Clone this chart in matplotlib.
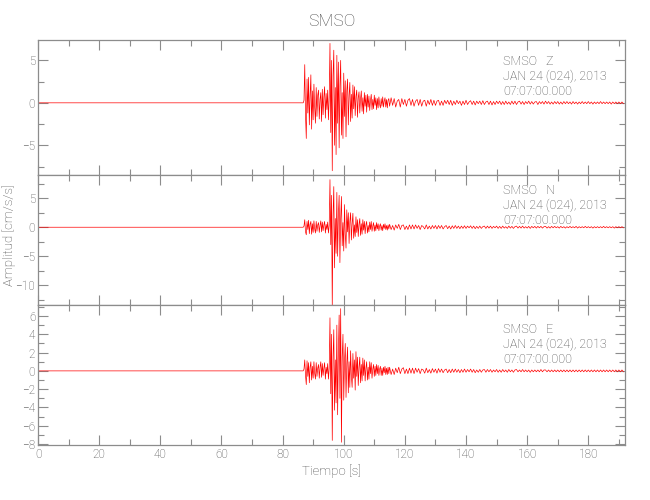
import matplotlib
matplotlib.use('Agg')
import matplotlib.pyplot as plt
import numpy as np
from matplotlib.ticker import MultipleLocator

plt.rcParams['font.family'] = ['Roboto', 'DejaVu Sans']
plt.rcParams['font.weight'] = 'light'

col_trace = '#FF0000'
col_text = '#4a4a4a'
col_axis = '#8c8c8c'

station = 'SMSO'
components = ['Z', 'N', 'E']
date_line = 'JAN 24 (024), 2013'
time_line = '07:07:00.000'

# quiet part before the first arrival
pre_times = [0.0, 86.75]
pre_values = [0.0, 0.0]

# signed peaks, every 0.25 s from 87.0 s (cm/s/s)
main_start = 87.0
main_step = 0.25
z_main = [0.3, 4.5, -1.5, -4.2, 2.8, -1.2, 3.0, -2.6, 0.8, 3.3, -3.1, 1.4,
          -2.0, 2.2, -0.6, -2.4, 1.8, -1.6, 0.9, 1.5, -1.9, 0.4, 1.2, -2.2,
          1.6, -1.4, 0.7, 1.9, -1.8, 1.1, -0.8, 1.5, -2.0, 0.6,
          7.0, -3.5, 5.0, -8.0, 3.2, 6.2, -5.0, 1.8, -6.1, 5.6,
          -2.4, 4.8, -5.3, 2.0, 5.0, -3.8, 1.2, -4.2,
          3.5, -1.6, 2.6, -4.0, 1.4, 2.8, -2.6, 0.9,
          2.4, -2.2, 1.0, -1.8, 2.1, -0.7, 1.9, -1.5,
          0.8, 1.5, -1.7, 0.6, 1.3, -1.2, 0.5, 1.4,
          -1.0, 0.6, -1.3, 1.2, -0.4, 0.9, -1.1, 1.0,
          -0.5, 0.8, -0.9, 0.3, 1.0, -0.8, 0.4, -0.7,
          0.9, -0.3, 0.6, -0.8, 0.5, -0.6, 0.7, -0.2,
          -0.6, 0.5, -0.4, 0.7, -0.5, 0.2, 0.6, -0.5, 0.4, -0.6, 0.3, 0.5]
n_main = [0.2, 1.3, -0.8, -1.3, 1.0, -0.4, 1.2, -1.1, 0.5, 1.0, -1.2, 0.6,
          -0.9, 1.1, -0.3, -1.0, 1.0, -0.7, 0.4, 0.8, -0.9, 0.3, 1.1, -0.8,
          0.9, -0.6, 0.4, 1.0, -1.0, 0.5, -0.4, 0.9, -1.0, 0.3,
          8.2, -3.0, 5.5, -13.8, 2.0, 7.0, -7.0, 1.5, -4.5, 6.0,
          -5.0, 2.2, 5.5, -6.1, 1.5, 5.3, -3.2, 0.8,
          -4.1, 3.9, -1.2, -3.6, 3.0, -0.8, 2.5, -2.8,
          1.0, 2.5, -2.2, 0.6, 2.4, -1.9, 0.4, -1.6,
          1.8, -0.9, 1.3, -1.6, 0.5, 1.5, -1.4, 0.6,
          -1.2, 1.3, -0.5, 1.0, -1.1, 0.4, 1.0, -1.0,
          0.3, -0.8, 0.9, -0.4, 1.0, -0.7, 0.2, 0.8,
          -0.7, 0.4, -0.6, 0.8, -0.3, 0.6, -0.6, 0.2,
          0.6, -0.5, 0.3, -0.6, 0.5, -0.2, 0.6, -0.4, 0.3, -0.5, 0.4, -0.3]
e_main = [0.2, 1.2, -0.5, -1.5, 1.1, -0.6, 0.9, -1.3, 0.4, 1.0, -1.0, 0.5,
          -0.8, 1.0, -0.3, -0.9, 0.9, -0.6, 0.3, 0.7, -0.8, 0.4, 1.0, -0.7,
          0.8, -0.5, 0.3, 0.9, -0.9, 0.4, -0.3, 0.8, -0.9, 0.3,
          5.8, -2.5, 4.0, -7.6, 1.5, 4.5, -4.3, 1.2, -3.5, 5.0,
          -4.8, 2.0, 6.1, -3.0, 6.8, -7.8, 1.5, 4.0,
          -3.2, 1.0, 3.0, -2.9, 0.8, 2.6, -2.4, 1.0,
          -1.8, 2.2, -0.6, -1.8, 1.9, -0.8, 1.2, -2.1,
          2.1, -0.6, 1.5, -1.6, 0.4, 1.5, -1.3, 0.7,
          -1.1, 1.4, -0.5, 1.2, -1.1, 0.3, 1.0, -1.0,
          0.4, -0.9, 1.0, -0.3, 0.9, -0.8, 0.2, 0.7,
          -0.6, 0.5, -0.5, 0.7, -0.3, 0.6, -0.5, 0.2,
          0.5, -0.5, 0.3, -0.5, 0.4, -0.2, 0.5, -0.4, 0.3, -0.4, 0.4, -0.3]

# coda, every 0.5 s from 115 s
coda_start = 115.0
coda_step = 0.5
z_coda = [-0.4, 0.6, -0.3, 0.5, -0.5, 0.2, 0.4, -0.5, 0.5, -0.2, 0.4, -0.4, 0.3, 0.5, -0.3, 0.4,
          -0.4, 0.2, 0.4, -0.3, 0.4, -0.4, 0.2, 0.3, -0.4, 0.3, -0.2, 0.4, -0.3, 0.3, -0.3, 0.2,
          0.3, -0.3, 0.2, -0.3, 0.3, -0.1, 0.3, -0.2, 0.3, -0.3, 0.2, -0.2, 0.3, -0.1, 0.2, -0.3,
          0.2, -0.2, 0.3, -0.2, 0.1, 0.25, -0.2, 0.2, -0.25, 0.2, -0.1, 0.2, -0.2, 0.25, -0.2, 0.1,
          0.2, -0.2, 0.2, -0.25, 0.15, -0.2, 0.2, -0.1, 0.2, -0.2, 0.15, -0.2, 0.2, -0.15, 0.1, -0.2,
          0.2, -0.15, 0.2, -0.2, 0.1, 0.2, -0.15, 0.15, -0.2, 0.15, -0.1, 0.2, -0.15, 0.15, -0.15, 0.1,
          0.15, -0.2, 0.15, -0.1, 0.15, -0.15, 0.2, -0.1, 0.15, -0.15, 0.1, -0.15, 0.15, -0.1, 0.15, -0.15,
          0.1, -0.15, 0.15, -0.1, 0.15, -0.1, 0.1, -0.15, 0.15, -0.1, 0.1, -0.15, 0.1, -0.1, 0.15, -0.1,
          0.1, -0.1, 0.15, -0.1, 0.1, -0.15, 0.1, -0.1, 0.1, -0.1, 0.15, -0.1, 0.1, -0.1, 0.1, -0.1,
          0.1, -0.15, 0.1, -0.1, 0.1, -0.1, 0.1, -0.1, 0.1, -0.1]
n_coda = [0.5, -0.4, 0.3, -0.5, 0.4, -0.2, 0.5, -0.4, 0.3, 0.4, -0.4, 0.2, -0.4, 0.4, -0.3, 0.4,
          -0.3, 0.4, -0.2, 0.3, -0.4, 0.3, 0.1, -0.3, 0.4, -0.3, 0.2, -0.3, 0.3, -0.2, 0.3, -0.3,
          0.3, -0.2, 0.3, -0.3, 0.1, 0.3, -0.25, 0.2, -0.3, 0.25, -0.2, 0.3, -0.2, 0.2, -0.25, 0.2,
          -0.2, 0.25, -0.2, 0.2, -0.1, 0.25, -0.2, 0.2, -0.25, 0.15, -0.2, 0.2, -0.2, 0.1, 0.2, -0.2,
          0.2, -0.15, 0.2, -0.2, 0.15, -0.1, 0.2, -0.2, 0.15, -0.2, 0.2, -0.15, 0.1, -0.2, 0.2, -0.15,
          0.15, -0.2, 0.1, 0.2, -0.15, 0.15, -0.15, 0.2, -0.15, 0.1, -0.15, 0.15, -0.2, 0.15, -0.1, 0.15,
          -0.15, 0.15, -0.1, 0.15, -0.15, 0.1, 0.15, -0.15, 0.1, -0.15, 0.15, -0.1, 0.15, -0.1, 0.1, -0.15,
          0.15, -0.1, 0.1, -0.15, 0.1, -0.1, 0.15, -0.1, 0.1, -0.1, 0.15, -0.15, 0.1, -0.1, 0.1, -0.1,
          0.15, -0.1, 0.1, -0.1, 0.1, -0.15, 0.1, -0.1, 0.1, -0.1, 0.1, -0.1, 0.15, -0.1, 0.1, -0.1,
          0.1, -0.1, 0.1, -0.15, 0.1, -0.1, 0.1, -0.1, 0.1, -0.1]
e_coda = [0.4, -0.4, 0.2, -0.4, 0.3, -0.2, 0.4, -0.3, 0.2, 0.35, -0.3, 0.2, -0.3, 0.3, -0.25, 0.3,
          -0.3, 0.3, -0.15, 0.25, -0.3, 0.2, 0.1, -0.25, 0.3, -0.2, 0.15, -0.25, 0.25, -0.15, 0.2, -0.25,
          0.25, -0.15, 0.2, -0.2, 0.1, 0.2, -0.2, 0.15, -0.2, 0.2, -0.15, 0.2, -0.15, 0.15, -0.2, 0.15,
          -0.15, 0.2, -0.15, 0.15, -0.1, 0.2, -0.15, 0.15, -0.2, 0.1, -0.15, 0.15, -0.15, 0.1, 0.15, -0.15,
          0.15, -0.1, 0.15, -0.15, 0.1, -0.1, 0.15, -0.15, 0.1, -0.15, 0.15, -0.1, 0.1, -0.15, 0.15, -0.1,
          0.1, -0.15, 0.1, 0.15, -0.1, 0.1, -0.1, 0.15, -0.1, 0.1, -0.1, 0.1, -0.15, 0.1, -0.1, 0.1,
          -0.1, 0.1, -0.1, 0.15, -0.1, 0.1, 0.1, -0.1, 0.1, -0.1, 0.1, -0.1, 0.1, -0.1, 0.1, -0.1,
          0.1, -0.1, 0.1, -0.1, 0.1, -0.1, 0.1, -0.1, 0.1, -0.1, 0.1, -0.1, 0.1, -0.1, 0.1, -0.1,
          0.1, -0.1, 0.1, -0.1, 0.1, -0.1, 0.1, -0.1, 0.1, -0.1, 0.1, -0.1, 0.1, -0.1, 0.1, -0.1,
          0.1, -0.1, 0.1, -0.1, 0.1, -0.1, 0.1, -0.1, 0.1, -0.1]

mains = [z_main, n_main, e_main]
codas = [z_coda, n_coda, e_coda]

y_limits = [(-8.5, 7.4), (-13.4, 9.0), (-8.1, 7.2)]
y_major = [5, 5, 2]
y_minor = [2.5, 2.5, 1]
x_limits = (0, 192)

fig = plt.figure(figsize=(6.5, 5.0), dpi=100)
fig.patch.set_facecolor('white')

left, right = 38 / 650, 625 / 650
bounds_px = [(40, 175), (175, 305), (305, 445)]
text_offsets = [15, 9, 18]

for i, comp in enumerate(components):
    top_px, bot_px = bounds_px[i]
    ax = fig.add_axes([left, 1 - bot_px / 500, right - left, (bot_px - top_px) / 500])

    t = np.concatenate([
        pre_times,
        main_start + main_step * np.arange(len(mains[i])),
        coda_start + coda_step * np.arange(len(codas[i])),
    ])
    v = np.concatenate([pre_values, mains[i], codas[i]])
    ax.plot(t, v, color=col_trace, linewidth=0.5)

    ax.set_xlim(*x_limits)
    ax.set_ylim(*y_limits[i])
    ax.xaxis.set_major_locator(MultipleLocator(20))
    ax.xaxis.set_minor_locator(MultipleLocator(10))
    ax.yaxis.set_major_locator(MultipleLocator(y_major[i]))
    ax.yaxis.set_minor_locator(MultipleLocator(y_minor[i]))
    ax.tick_params(which='both', direction='in', top=True, right=True,
                   color=col_axis, labelcolor=col_text, labelsize=8.5, pad=2)
    ax.tick_params(which='major', length=7, width=0.8)
    ax.tick_params(which='minor', length=4, width=0.8)
    for sp in ax.spines.values():
        sp.set_color(col_axis)
        sp.set_linewidth(0.9)
    if i < 2:
        ax.tick_params(labelbottom=False)

    ax.annotate(f'{station}   {comp}\n{date_line}\n{time_line}',
                xy=(0.792, 1.0), xycoords='axes fraction',
                xytext=(0, -text_offsets[i]), textcoords='offset pixels',
                ha='left', va='top', fontsize=9, color=col_text, linespacing=1.2)

fig.text((left + right) / 2, 1 - 22 / 500, station, ha='center', va='center',
         fontsize=12.5, color=col_text)
fig.text((left + right) / 2, 1 - 471 / 500, 'Tiempo [s]', ha='center', va='center',
         fontsize=9.5, color=col_text)
fig.text(9 / 650, 1 - 235 / 500, 'Amplitud [cm/s/s]', ha='center', va='center',
         rotation=90, fontsize=9.5, color=col_text)

fig.savefig('out.png', dpi=100)
